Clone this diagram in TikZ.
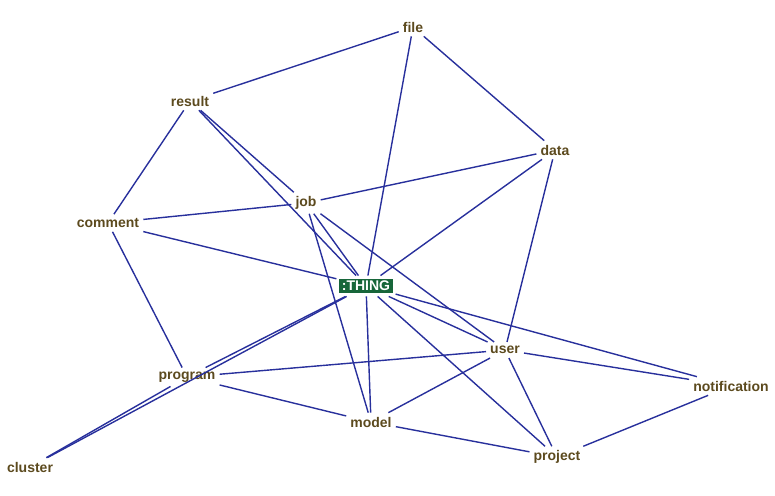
\documentclass[tikz,border=0pt]{standalone}
\usepackage{fontspec}
\setmainfont{Liberation Sans}
\definecolor{edgeblue}{HTML}{28309C}
\definecolor{labelbrown}{HTML}{5C4A1E}
\definecolor{thinggreen}{HTML}{17663A}
\begin{document}
\begin{tikzpicture}[x=1pt,y=-1pt,
  term/.style={font=\fontsize{14}{16}\selectfont\bfseries, text=labelbrown, inner sep=4pt},
  thing/.style={font=\fontsize{14}{16}\selectfont\bfseries, text=white, fill=thinggreen, inner sep=2.5pt, outer sep=3pt},
  link/.style={draw=edgeblue, line width=1.4pt}]
\useasboundingbox (0,0) rectangle (775,495);
\node[term] (file) at (413,27) {file};
\node[term] (result) at (190,101) {result};
\node[term] (data) at (555,150) {data};
\node[term] (job) at (306,203) {job};
\node[term] (comment) at (108,223) {comment};
\node[thing] (thing) at (366,286) {:THING};
\node[term] (user) at (505,350) {user};
\node[term] (program) at (187,377) {program};
\node[term] (notification) at (731,386) {notification};
\node[term] (model) at (371,422) {model};
\node[term] (cluster) at (30,467) {cluster};
\node[term] (project) at (557,457) {project};
\foreach \a/\b in {file/result, file/data, file/thing,
  result/comment, result/job, result/thing,
  data/job, data/thing, data/user,
  comment/job, comment/thing, comment/program,
  job/thing, job/model, job/user,
  thing/program, thing/cluster, thing/user, thing/notification, thing/model, thing/project,
  program/cluster, program/user, program/model,
  user/notification, user/model, user/project,
  model/project, project/notification}
  \draw[link] (\a) -- (\b);
\end{tikzpicture}
\end{document}
